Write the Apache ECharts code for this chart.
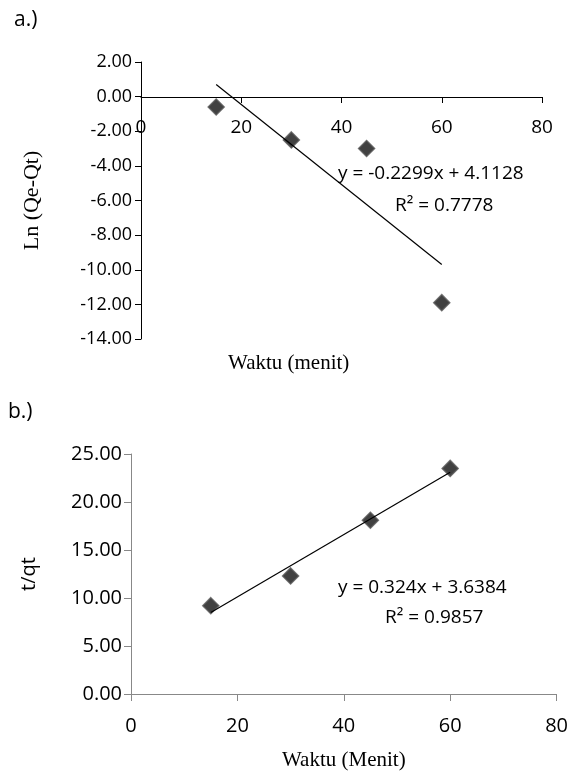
<!DOCTYPE html>
<html><head><meta charset="utf-8">
<script src="https://cdn.jsdelivr.net/npm/echarts@6/dist/echarts.min.js"></script>
<style>html,body{margin:0;background:#fff}#main{width:571px;height:773px}</style>
</head><body><div id="main"></div>
<script>
// chart a data
var waktuA = [15, 30, 45, 60];
var lnQ = [-0.6, -2.5, -3.0, -11.9];
var trendA = [[15, 0.7], [60, -9.7]];
// chart b data
var waktuB = [15, 30, 45, 60];
var tqt = [9.2, 12.3, 18.1, 23.5];
var trendB = [[15, 8.5], [60, 23.1]];

var sans = 'Open Sans';
var serif = 'Liberation Serif';
var myChart = echarts.init(document.getElementById('main'));

function pairs(xs, ys) {
	return xs.map(function(x, i) { return [x, ys[i]]; });
}
var dia = {
	type: 'scatter', symbol: 'diamond', symbolSize: 16,
	itemStyle: { color: '#111', borderColor: '#555', borderWidth: 1.5 }
};

option = {
	animation: false,
	graphic: [
		{ type: 'text', left: 14, top: 10, style: { text: 'a.)', font: '21px ' + sans, fill: '#000' } },
		{ type: 'text', left: 8, top: 402, style: { text: 'b.)', font: '21px ' + sans, fill: '#000' } },
		{ type: 'text', left: 228, top: 353, style: { text: 'Waktu (menit)', font: '21px ' + serif, fill: '#000' } },
		{ type: 'text', left: 338, top: 164, style: { text: 'y = -0.2299x + 4.1128', font: '19px ' + sans, fill: '#000' } },
		{ type: 'text', left: 395, top: 196, style: { text: 'R² = 0.7778', font: '19px ' + sans, fill: '#000' } },
		{ type: 'text', left: 338, top: 578, style: { text: 'y = 0.324x + 3.6384', font: '19px ' + sans, fill: '#000' } },
		{ type: 'text', left: 385, top: 608, style: { text: 'R² = 0.9857', font: '19px ' + sans, fill: '#000' } }
	],
	grid: [
		{ left: 141, top: 62, width: 401, height: 277 },
		{ left: 131, top: 454, width: 436, height: 240 }
	],
	xAxis: [{
		gridIndex: 0, type: 'value', min: 0, max: 80, interval: 20,
		position: 'top', offset: -35,
		axisLine: { onZero: false, lineStyle: { color: '#000' } },
		axisTick: { show: true, inside: true, length: 6, lineStyle: { color: '#000' } },
		axisLabel: { inside: true, fontFamily: sans, fontSize: 19, color: '#000', margin: 21 },
		splitLine: { show: false }
	}, {
		gridIndex: 1, type: 'value', min: 0, max: 80, interval: 20,
		name: 'Waktu (Menit)', nameLocation: 'middle', nameGap: 56,
		nameTextStyle: { fontFamily: serif, fontSize: 21, color: '#000' },
		axisLine: { lineStyle: { color: '#888' } },
		axisTick: { show: true, length: 7, lineStyle: { color: '#888' } },
		axisLabel: { fontFamily: sans, fontSize: 20, color: '#000', margin: 22 },
		splitLine: { show: false }
	}],
	yAxis: [{
		gridIndex: 0, type: 'value', min: -14, max: 2, interval: 2,
		name: 'Ln (Qe-Qt)', nameLocation: 'middle', nameGap: 98,
		nameTextStyle: { fontFamily: serif, fontSize: 22, color: '#000' },
		axisLine: { show: true, onZero: false, lineStyle: { color: '#000' } },
		axisTick: { show: true, length: 6, lineStyle: { color: '#000' } },
		axisLabel: { fontFamily: sans, fontSize: 18, color: '#000', margin: 9,
			formatter: function(v) { return v.toFixed(2); } },
		splitLine: { show: false }
	}, {
		gridIndex: 1, type: 'value', min: 0, max: 25, interval: 5,
		name: 't/qt', nameLocation: 'middle', nameGap: 92,
		nameTextStyle: { fontFamily: sans, fontSize: 20, color: '#000' },
		axisLine: { show: true, lineStyle: { color: '#888' } },
		axisTick: { show: true, length: 7, lineStyle: { color: '#888' } },
		axisLabel: { fontFamily: sans, fontSize: 20, color: '#000', margin: 9,
			formatter: function(v) { return v.toFixed(2); } },
		splitLine: { show: false }
	}],
	series: [
		{ type: 'line', xAxisIndex: 0, yAxisIndex: 0, data: trendA, symbol: 'none',
			lineStyle: { color: '#000', width: 1.2 } },
		Object.assign({}, dia, { xAxisIndex: 0, yAxisIndex: 0, data: pairs(waktuA, lnQ) }),
		{ type: 'line', xAxisIndex: 1, yAxisIndex: 1, data: trendB, symbol: 'none',
			lineStyle: { color: '#000', width: 1.2 } },
		Object.assign({}, dia, { xAxisIndex: 1, yAxisIndex: 1, data: pairs(waktuB, tqt) })
	]
};
myChart.setOption(option);
</script></body></html>
